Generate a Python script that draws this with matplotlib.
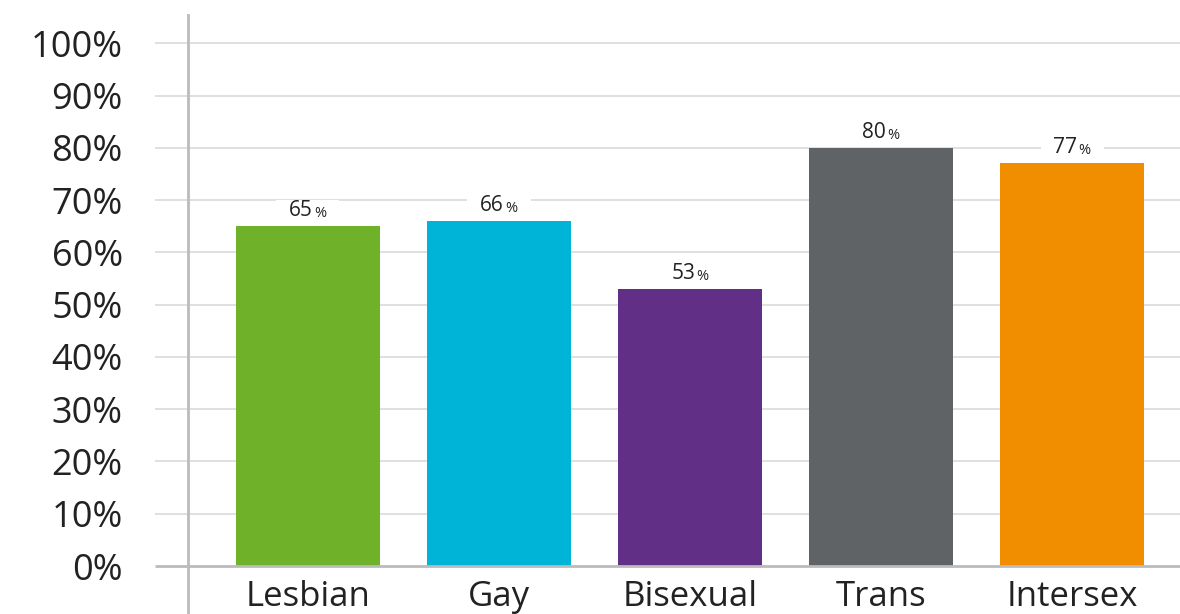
import matplotlib.pyplot as plt
from matplotlib.patches import Rectangle

groups = ["Lesbian", "Gay", "Bisexual", "Trans", "Intersex"]
shares = [65, 66, 53, 80, 77]
colors = ["#6FB22A", "#00B4D7", "#622F87", "#5F6366", "#F18E00"]
yticks = [0, 10, 20, 30, 40, 50, 60, 70, 80, 90, 100]
ytick_labels = [f"{t}%" for t in yticks]

plt.rcParams['font.family'] = ['Open Sans', 'DejaVu Sans']

fig = plt.figure(figsize=(11.8, 6.14), dpi=100)
ax = fig.add_axes([188 / 1180, 48 / 614, 992 / 1180, 551 / 614])

x = list(range(len(groups)))
ax.bar(x, shares, width=0.754, color=colors, zorder=3)

ax.set_xlim(-0.628, 4.565)
ax.set_ylim(0, 105.4)

# light gridlines that run a bit past the left axis
ytrans = ax.get_yaxis_transform()
ax.hlines(yticks[1:], -0.033, 1, transform=ytrans, colors="#DDDDDD",
          linewidth=1.3, clip_on=False, zorder=1)
ax.hlines(0, -0.033, 1, transform=ytrans, colors="#BBBBBB",
          linewidth=2, clip_on=False, zorder=4)

for s in ["top", "right", "bottom"]:
    ax.spines[s].set_visible(False)
ax.spines["left"].set_color("#BBBBBB")
ax.spines["left"].set_linewidth(2)
ax.spines["left"].set_bounds(-10, 105.4)

ax.set_yticks(yticks, ytick_labels)
ax.set_xticks(x, groups)
ax.tick_params(axis="y", length=0, pad=47, labelsize=26, labelcolor="#222222")
ax.tick_params(axis="x", length=0, pad=10, labelsize=25, labelcolor="#222222")

# value labels: number plus a smaller percent sign, on a white patch
for xi, v in zip(x, shares):
    ax.add_patch(Rectangle((xi - 0.165, v + 0.8), 0.33, 4.2, facecolor="white",
                           edgecolor="none", zorder=2))
    ax.annotate(str(v), (xi, v), xytext=(5, 5), textcoords="offset pixels",
                ha="right", va="bottom", fontsize=15, color="#222222", zorder=5)
    ax.annotate("%", (xi, v), xytext=(6, 5), textcoords="offset pixels",
                ha="left", va="bottom", fontsize=10.5, color="#222222", zorder=5)

fig.savefig("out.png", dpi=100)
